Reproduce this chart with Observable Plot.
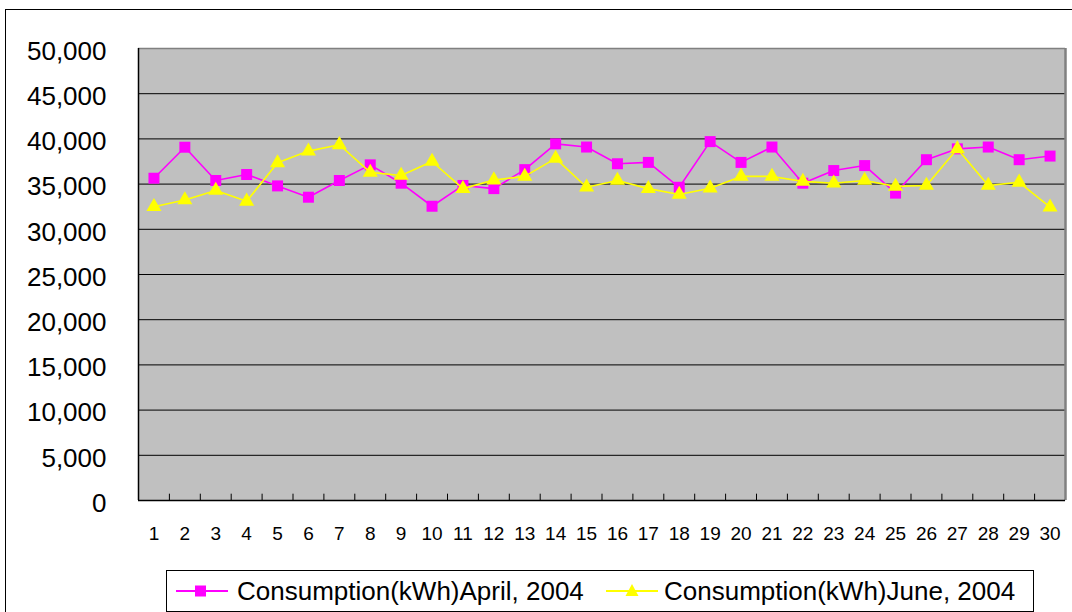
<!DOCTYPE html>
<html><head><meta charset="utf-8">
<script src="https://cdn.jsdelivr.net/npm/d3@7"></script>
<script src="https://cdn.jsdelivr.net/npm/@observablehq/plot@0.6"></script>
<style>
body{margin:0;width:1072px;height:612px;overflow:hidden;background:#fff;font-family:"Liberation Sans",Arial,sans-serif;position:relative}
#border{position:absolute;left:5px;top:9px;width:1200px;height:800px;border:1.5px solid #000;}
#chart{position:absolute;left:0;top:0}
#legend{position:absolute;left:166px;top:570px;width:866px;height:40px;border:1px solid #000;background:#fff;font-size:26px;color:#000}
#legend .item{position:absolute;top:0;height:40px;display:flex;align-items:center}
#legend svg{display:block}
</style></head>
<body>
<div id="border"></div>
<div id="chart"></div>
<div id="legend">
  <div class="item" style="left:9px"><svg width="52" height="20"><line x1="0" x2="52" y1="10" y2="10" stroke="#ff00ff" stroke-width="2"/><rect x="19" y="4.5" width="11" height="11" fill="#ff00ff"/></svg><span id="l1" style="margin-left:9px"></span></div>
  <div class="item" style="left:439px"><svg width="52" height="20"><line x1="0" x2="52" y1="10" y2="10" stroke="#ffff00" stroke-width="2"/><path d="M26,3 L32.5,15 L19.5,15 Z" fill="#ffff00"/></svg><span id="l2" style="margin-left:6px"></span></div>
</div>
<script>
const days = [1,2,3,4,5,6,7,8,9,10,11,12,13,14,15,16,17,18,19,20,21,22,23,24,25,26,27,28,29,30];
const april = [35650,39080,35400,36060,34800,33550,35400,37130,35100,32550,34850,34500,36600,39450,39100,37250,37400,34650,39700,37400,39100,35100,36500,37050,34000,37700,38900,39100,37700,38100];
const june  = [32500,33250,34300,33100,37350,38650,39350,36300,35950,37500,34500,35450,35850,37850,34650,35400,34500,33850,34550,35850,35850,35300,35100,35400,34750,34850,38900,34850,35200,32450];
const yTicks = [0,5000,10000,15000,20000,25000,30000,35000,40000,45000,50000];
const seriesNames = ["Consumption(kWh)April, 2004","Consumption(kWh)June, 2004"];

document.getElementById("l1").textContent = seriesNames[0];
document.getElementById("l2").textContent = seriesNames[1];

const aprilData = days.map((d,i)=>({day:d, v:april[i]}));
const juneData = days.map((d,i)=>({day:d, v:june[i]}));
const bounds = days.slice(0,-1).map(d=>d+0.5);
const grid = yTicks.filter(v=>v>0 && v<50000);

const chart = Plot.plot({
  width:1072, height:560,
  marginLeft:138, marginRight:7, marginTop:48, marginBottom:60,
  style:{fontFamily:'"Liberation Sans", Arial, sans-serif', color:"#000", background:"transparent"},
  x:{type:"linear", domain:[0.5,30.5], label:null},
  y:{domain:[0,50000], label:null},
  marks:[
    Plot.frame({fill:"#c0c0c0", stroke:"none"}),
    Plot.ruleY(grid,{stroke:"#000", strokeWidth:1}),
    Plot.ruleY([50000],{stroke:"#808080", strokeWidth:1.5}),
    Plot.ruleX([30.5],{stroke:"#808080", strokeWidth:2.5}),
    Plot.ruleX([0.5],{stroke:"#000", strokeWidth:1.5}),
    Plot.ruleY([0],{stroke:"#000", strokeWidth:1.5}),
    Plot.ruleX(bounds,{y1:0, y2:700, stroke:"#000", strokeWidth:1}),
    Plot.line(aprilData,{x:"day", y:"v", stroke:"#ff00ff", strokeWidth:1.6}),
    Plot.dot(aprilData,{x:"day", y:"v", symbol:"square", r:6.2, fill:"#ff00ff", stroke:"none"}),
    Plot.line(juneData,{x:"day", y:"v", stroke:"#ffff00", strokeWidth:1.6}),
    Plot.dot(juneData,{x:"day", y:"v", symbol:"triangle", r:5.6, fill:"#ffff00", stroke:"none"}),
    Plot.axisY({ticks:yTicks, tickFormat:d3.format(","), tickSize:0, tickPadding:32, fontSize:26, dy:3, label:null}),
    Plot.axisX({ticks:days, tickFormat:d=>String(d), tickSize:0, tickPadding:26, fontSize:19, label:null})
  ]
});
document.getElementById("chart").appendChild(chart);
</script>
</body></html>
